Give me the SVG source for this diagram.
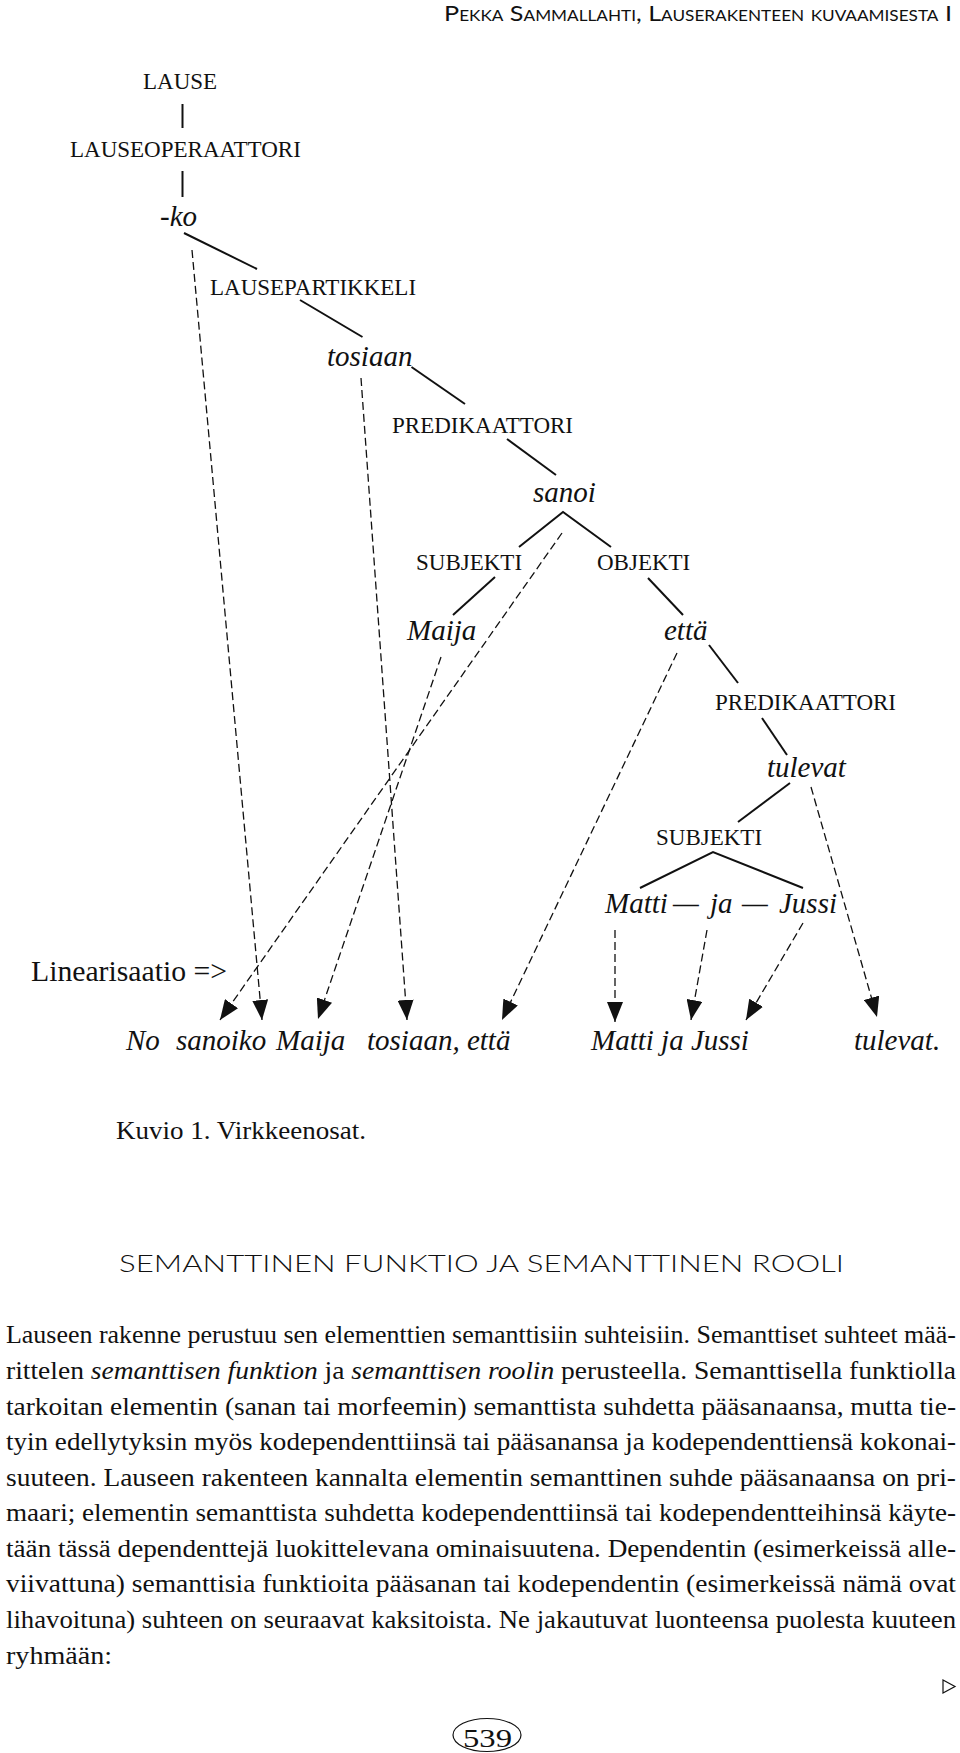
<svg xmlns="http://www.w3.org/2000/svg" width="960" height="1753" viewBox="0 0 960 1753">
<style>
  .bg{fill:#ffffff}
  .cap{font-family:"Liberation Serif","Times New Roman",serif;font-size:23px;fill:#111}
  .it{font-family:"Liberation Serif","Times New Roman",serif;font-size:29px;font-style:italic;fill:#111}
  .up{font-family:"Liberation Serif","Times New Roman",serif;font-size:29px;fill:#111}
  .body{font-family:"Liberation Serif","Times New Roman",serif;font-size:24.5px;fill:#111}
  .sans{font-family:Lato,"Open Sans","Liberation Sans",sans-serif;fill:#111}
  .solid{stroke:#111;stroke-width:2;fill:none;stroke-linecap:butt}
  .dash{stroke:#111;stroke-width:1.3;fill:none;stroke-dasharray:8 4}
</style>
<defs>
  <marker id="arr" markerUnits="userSpaceOnUse" markerWidth="20" markerHeight="16" viewBox="0 0 20 16" refX="20" refY="8" orient="auto">
    <path d="M0,0 L20,8 L0,16 Z" fill="#111"/>
  </marker>
</defs>
<rect class="bg" x="0" y="0" width="960" height="1753"/>

<g id="header">
  <text class="sans" x="444" y="21" font-size="22" style="font-variant:small-caps" textLength="508" lengthAdjust="spacingAndGlyphs">Pekka Sammallahti, Lauserakenteen kuvaamisesta I</text>
</g>

<g id="connectors">
  <line class="solid" x1="182.5" y1="104" x2="182.5" y2="128"/>
  <line class="solid" x1="182.5" y1="171" x2="182.5" y2="197"/>
  <line class="solid" x1="184" y1="233" x2="257" y2="269"/>
  <line class="solid" x1="300" y1="300" x2="362.5" y2="337"/>
  <line class="solid" x1="411.5" y1="367" x2="465" y2="404"/>
  <line class="solid" x1="507" y1="439" x2="556" y2="475"/>
  <polyline class="solid" points="519,547 563,512 611,547"/>
  <line class="solid" x1="495" y1="577" x2="453" y2="615"/>
  <line class="solid" x1="648" y1="578" x2="683" y2="615"/>
  <line class="solid" x1="709" y1="645" x2="738" y2="683"/>
  <line class="solid" x1="762" y1="718" x2="787" y2="755"/>
  <line class="solid" x1="790" y1="783" x2="738" y2="822"/>
  <polyline class="solid" points="640,888 713,852 803,888"/>

  <path class="dash" d="M562,533 L220,1020" marker-end="url(#arr)"/>
  <path class="dash" d="M192,250 L262,1020" marker-end="url(#arr)"/>
  <path class="dash" d="M361,378 L407,1020" marker-end="url(#arr)"/>
  <path class="dash" d="M441,657 L318,1019" marker-end="url(#arr)"/>
  <path class="dash" d="M677,653 L502,1020" marker-end="url(#arr)"/>
  <path class="dash" d="M615,930 L615,1022" marker-end="url(#arr)"/>
  <path class="dash" d="M707,930 L691,1020" marker-end="url(#arr)"/>
  <path class="dash" d="M803,923 L746,1020" marker-end="url(#arr)"/>
  <path class="dash" d="M811,787 L877,1017" marker-end="url(#arr)"/>
</g>

<g id="n-lause"><text class="cap" x="143" y="89">LAUSE</text></g>
<g id="n-lauseoperaattori"><text class="cap" x="70" y="157">LAUSEOPERAATTORI</text></g>
<g id="n-ko"><text class="it" x="160" y="226">-ko</text></g>
<g id="n-lausepartikkeli"><text class="cap" x="210" y="295">LAUSEPARTIKKELI</text></g>
<g id="n-tosiaan"><text class="it" x="327" y="366">tosiaan</text></g>
<g id="n-predikaattori1"><text class="cap" x="392" y="433">PREDIKAATTORI</text></g>
<g id="n-sanoi"><text class="it" x="533" y="502">sanoi</text></g>
<g id="n-subjekti1"><text class="cap" x="416" y="570">SUBJEKTI</text></g>
<g id="n-objekti"><text class="cap" x="597" y="570">OBJEKTI</text></g>
<g id="n-maija"><text class="it" x="407" y="640">Maija</text></g>
<g id="n-etta"><text class="it" x="664" y="640">että</text></g>
<g id="n-predikaattori2"><text class="cap" x="715" y="710">PREDIKAATTORI</text></g>
<g id="n-tulevat"><text class="it" x="767" y="777">tulevat</text></g>
<g id="n-subjekti2"><text class="cap" x="656" y="845">SUBJEKTI</text></g>
<g id="n-matti-ja-jussi">
  <text class="it" x="605" y="913">Matti</text>
  <text class="it" x="673" y="913">—</text>
  <text class="it" x="710" y="913">ja</text>
  <text class="it" x="742" y="913">—</text>
  <text class="it" x="779" y="913">Jussi</text>
</g>

<g id="linearisaatio"><text class="up" x="31" y="981" textLength="196" lengthAdjust="spacingAndGlyphs">Linearisaatio =&gt;</text></g>

<g id="output-line">
  <text class="it" x="126" y="1050">No</text>
  <text class="it" x="176" y="1050">sanoiko</text>
  <text class="it" x="276" y="1050">Maija</text>
  <text class="it" x="367" y="1050">tosiaan, että</text>
  <text class="it" x="591" y="1050">Matti ja Jussi</text>
  <text class="it" x="854" y="1050">tulevat.</text>
</g>

<g id="caption"><text class="body" x="116" y="1139" font-size="24" textLength="250" lengthAdjust="spacingAndGlyphs">Kuvio 1. Virkkeenosat.</text></g>

<g id="title"><text class="sans" x="119" y="1272" font-size="24" font-weight="300" textLength="725" lengthAdjust="spacingAndGlyphs">SEMANTTINEN FUNKTIO JA SEMANTTINEN ROOLI</text></g>

<g id="body-text">
  <text class="body" x="6" y="1343" textLength="950" lengthAdjust="spacingAndGlyphs">Lauseen rakenne perustuu sen elementtien semanttisiin suhteisiin. Semanttiset suhteet mää-</text>
  <text class="body" x="6" y="1379" textLength="950" lengthAdjust="spacingAndGlyphs">rittelen <tspan font-style="italic">semanttisen funktion</tspan> ja <tspan font-style="italic">semanttisen roolin</tspan> perusteella. Semanttisella funktiolla</text>
  <text class="body" x="6" y="1415" textLength="950" lengthAdjust="spacingAndGlyphs">tarkoitan elementin (sanan tai morfeemin) semanttista suhdetta pääsanaansa, mutta tie-</text>
  <text class="body" x="6" y="1450" textLength="950" lengthAdjust="spacingAndGlyphs">tyin edellytyksin myös kodependenttiinsä tai pääsanansa ja kodependenttiensä kokonai-</text>
  <text class="body" x="6" y="1486" textLength="950" lengthAdjust="spacingAndGlyphs">suuteen. Lauseen rakenteen kannalta elementin semanttinen suhde pääsanaansa on pri-</text>
  <text class="body" x="6" y="1521" textLength="950" lengthAdjust="spacingAndGlyphs">maari; elementin semanttista suhdetta kodependenttiinsä tai kodependentteihinsä käyte-</text>
  <text class="body" x="6" y="1557" textLength="950" lengthAdjust="spacingAndGlyphs">tään tässä dependenttejä luokittelevana ominaisuutena. Dependentin (esimerkeissä alle-</text>
  <text class="body" x="6" y="1592" textLength="950" lengthAdjust="spacingAndGlyphs">viivattuna) semanttisia funktioita pääsanan tai kodependentin (esimerkeissä nämä ovat</text>
  <text class="body" x="6" y="1628" textLength="950" lengthAdjust="spacingAndGlyphs">lihavoituna) suhteen on seuraavat kaksitoista. Ne jakautuvat luonteensa puolesta kuuteen</text>
  <text class="body" x="6" y="1664" textLength="106" lengthAdjust="spacingAndGlyphs">ryhmään:</text>
</g>

<g id="next-page-mark"><polygon points="943,1680 955,1686.5 943,1693" fill="none" stroke="#111" stroke-width="1.2"/></g>

<g id="page-number">
  <ellipse cx="487" cy="1735" rx="34" ry="16.5" fill="none" stroke="#111" stroke-width="1.2"/>
  <text class="body" x="463" y="1747" font-size="34" textLength="49" lengthAdjust="spacingAndGlyphs">539</text>
</g>
</svg>
